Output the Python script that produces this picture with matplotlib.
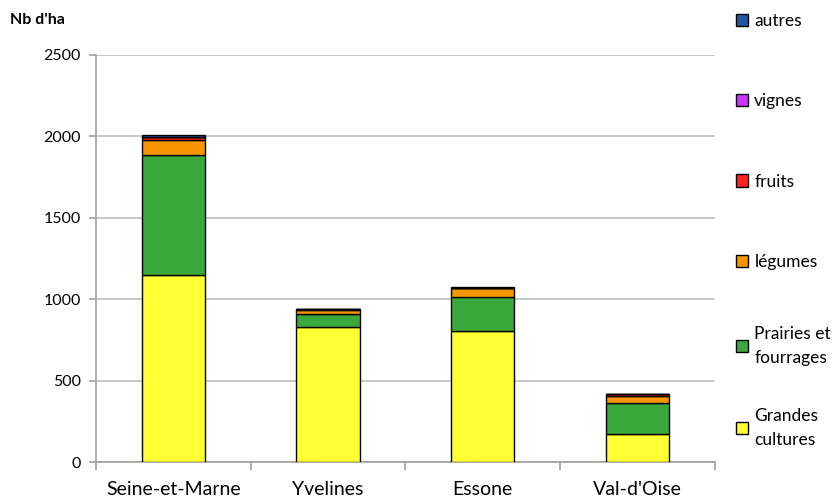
import matplotlib
matplotlib.use("Agg")
import matplotlib.pyplot as plt
import numpy as np

plt.rcParams['font.family'] = ['Lato', 'DejaVu Sans']

departements = ["Seine-et-Marne", "Yvelines", "Essone", "Val-d'Oise"]
grandes_cultures = [1148, 829, 804, 172]
prairies = [737, 80, 209, 190]
legumes = [90, 24, 55, 43]
fruits = [22, 5, 2, 12]
vignes = [0, 0, 0, 0]
autres = [10, 3, 3, 3]

series = [
    ("Grandes\ncultures", grandes_cultures, "#FFFF33"),
    ("Prairies et\nfourrages", prairies, "#3AA83A"),
    ("légumes", legumes, "#F79400"),
    ("fruits", fruits, "#FF2020"),
    ("vignes", vignes, "#CC33FF"),
    ("autres", autres, "#1F5AA0"),
]

fig = plt.figure(figsize=(8.34, 5.04), dpi=100)
ax = fig.add_axes([0.115, 0.0833, 0.742, 0.8077])

x = np.arange(len(departements))
bottom = np.zeros(len(departements))
handles = []
for label, vals, color in series:
    b = ax.bar(x, vals, width=0.41, bottom=bottom, color=color,
               edgecolor="black", linewidth=1, label=label, zorder=3)
    handles.append(b)
    bottom += np.array(vals)

ax.set_xlim(-0.5, len(departements) - 0.5)
ax.set_ylim(0, 2500)
ax.set_yticks(np.arange(0, 2501, 500))
ax.yaxis.grid(True, color="#BDBDBD", linewidth=1.2, zorder=0)
ax.set_axisbelow(True)

ax.set_xticks(np.arange(-0.5, len(departements), 1.0))
ax.set_xticklabels([])
ax.set_xticks(x, minor=True)
ax.set_xticklabels(departements, minor=True, fontsize=14)
ax.tick_params(axis="x", which="minor", length=0, pad=14)
ax.tick_params(axis="x", which="major", length=6, color="#A0A0A0", width=1.2)
ax.tick_params(axis="y", length=5, color="#A0A0A0", width=1.2, labelsize=11.5, pad=6)

for s in ["top", "right"]:
    ax.spines[s].set_visible(False)
for s in ["left", "bottom"]:
    ax.spines[s].set_color("#A0A0A0")
    ax.spines[s].set_linewidth(1.2)

fig.text(0.012, 0.953, "Nb d'ha", fontsize=11.5, fontweight="bold")

labels = [s[0] for s in series]
leg_opts = dict(loc="upper left", frameon=False, fontsize=12.5,
                handlelength=0.7, handleheight=0.7, handletextpad=0.35,
                borderpad=0.2)
# top four single-line entries
leg1 = fig.legend(handles[:1:-1], labels[:1:-1], bbox_to_anchor=(0.868, 0.998),
                  labelspacing=3.7, **leg_opts)
# two-line entries
leg2 = fig.legend(handles[1::-1], labels[1::-1], bbox_to_anchor=(0.868, 0.378),
                  labelspacing=2.4, **leg_opts)
for t in leg2.get_texts():
    t.set_linespacing(1.65)

fig.savefig("out.png", dpi=100)
